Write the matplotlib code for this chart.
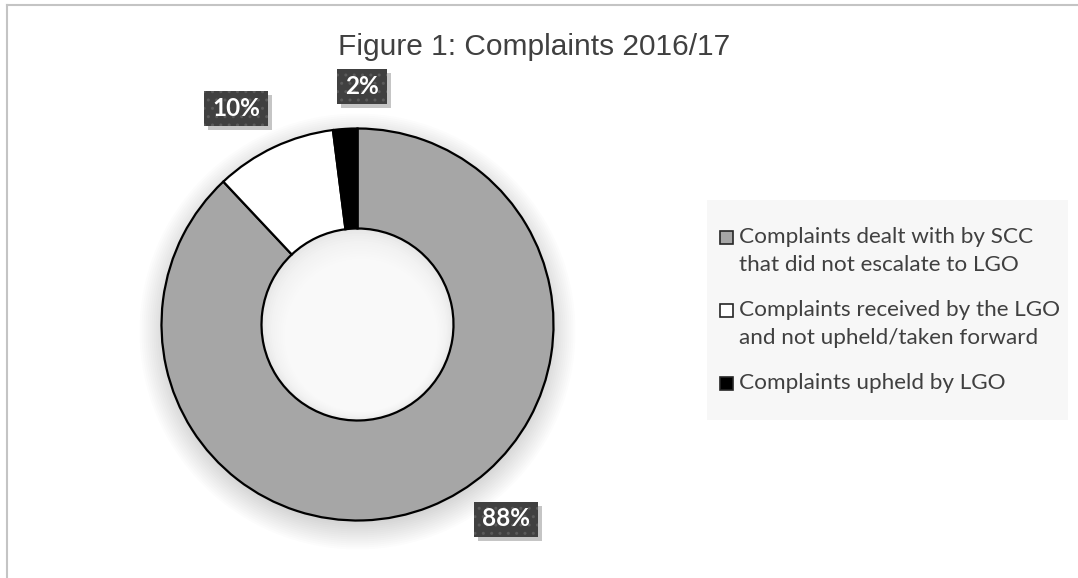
import matplotlib.pyplot as plt
from matplotlib.patches import Circle, Rectangle

# chart data
title = 'Figure 1: Complaints 2016/17'
categories = ['Complaints dealt with by SCC\nthat did not escalate to LGO',
              'Complaints received by the LGO\nand not upheld/taken forward',
              'Complaints upheld by LGO']
shares = [88, 10, 2]
colors = ['#a6a6a6', '#ffffff', '#000000']

# layout (pixels, measured from the top-left corner)
W, H = 1078, 578
cx, cy = 357.5, 324.5
r_out, r_in = 196, 96
label_pos = [(506, 519), (236, 108), (362, 86)]
legend_y = [237, 310, 383]
line_gap = 28
txt = '#404040'

fig = plt.figure(figsize=(W / 100, H / 100), dpi=100)
ax = fig.add_axes([0, 0, 1, 1])

# soft shadow under the ring
for k in range(14):
    ax.add_patch(Circle((cx, H - cy - 7), r_out + 2 * k - 4, fc='k', ec='none',
                        alpha=0.011, zorder=1))

wedges, _ = ax.pie(shares, colors=colors, startangle=90, counterclock=False,
                   center=(cx, H - cy), radius=r_out,
                   wedgeprops=dict(width=r_out - r_in, edgecolor='black', linewidth=1.6))
for w in wedges:
    w.set_zorder(3)

# shaded hole
ax.add_patch(Circle((cx, H - cy), r_in, fc='#e2e2e2', ec='none', zorder=2))
for k in range(20):
    ax.add_patch(Circle((cx + 0.3 * k, H - cy - 0.9 * k), r_in - 1.6 * k, fc='white',
                        ec='none', alpha=0.15, zorder=2))

ax.set_xlim(0, W)
ax.set_ylim(0, H)
ax.set_aspect('auto')
ax.axis('off')

# data labels: white bold text on a dotted dark box with a drop shadow
labels = []
for v, (x, y) in zip(shares, label_pos):
    labels.append(ax.text(x, H - y, f'{v}%', color='white', fontsize=17.5,
                          fontweight='bold', family='Lato', ha='center', va='center',
                          zorder=7))
fig.canvas.draw()
for t in labels:
    bb = t.get_window_extent()
    x0, y0, bw, bh = bb.x0 - 8, bb.y0 - 6, bb.width + 16, bb.height + 12
    ax.add_patch(Rectangle((x0 + 4, y0 - 4), bw, bh, fc='#8c8c8c', ec='none',
                           alpha=0.5, zorder=5))
    ax.add_patch(Rectangle((x0, y0), bw, bh, fc='#404040', ec='#5a5a5a', lw=0,
                           hatch='..', zorder=6))

# legend
ax.add_patch(Rectangle((707, H - 420), 1068 - 707, 220, fc='#f7f7f7', ec='none', zorder=1))
for lab, col, y in zip(categories, colors, legend_y):
    ax.add_patch(Rectangle((720, H - y - 6.5), 13, 13, fc=col, ec='#262626', lw=1.2, zorder=4))
    for i, line in enumerate(lab.split('\n')):
        ax.text(739, H - y - i * line_gap, line, fontsize=16.2, family='Lato',
                color=txt, ha='left', va='center', zorder=4)

ax.text(534, H - 55, title, ha='center', va='baseline', fontsize=21.5,
        family='Liberation Sans', color=txt)

# frame edges
ax.plot([7, W], [H - 5, H - 5], color='#c4c4c4', lw=1.5, clip_on=False)
ax.plot([7, 7], [0, H - 5], color='#c4c4c4', lw=1.5, clip_on=False)

fig.savefig('out.png', dpi=100)
